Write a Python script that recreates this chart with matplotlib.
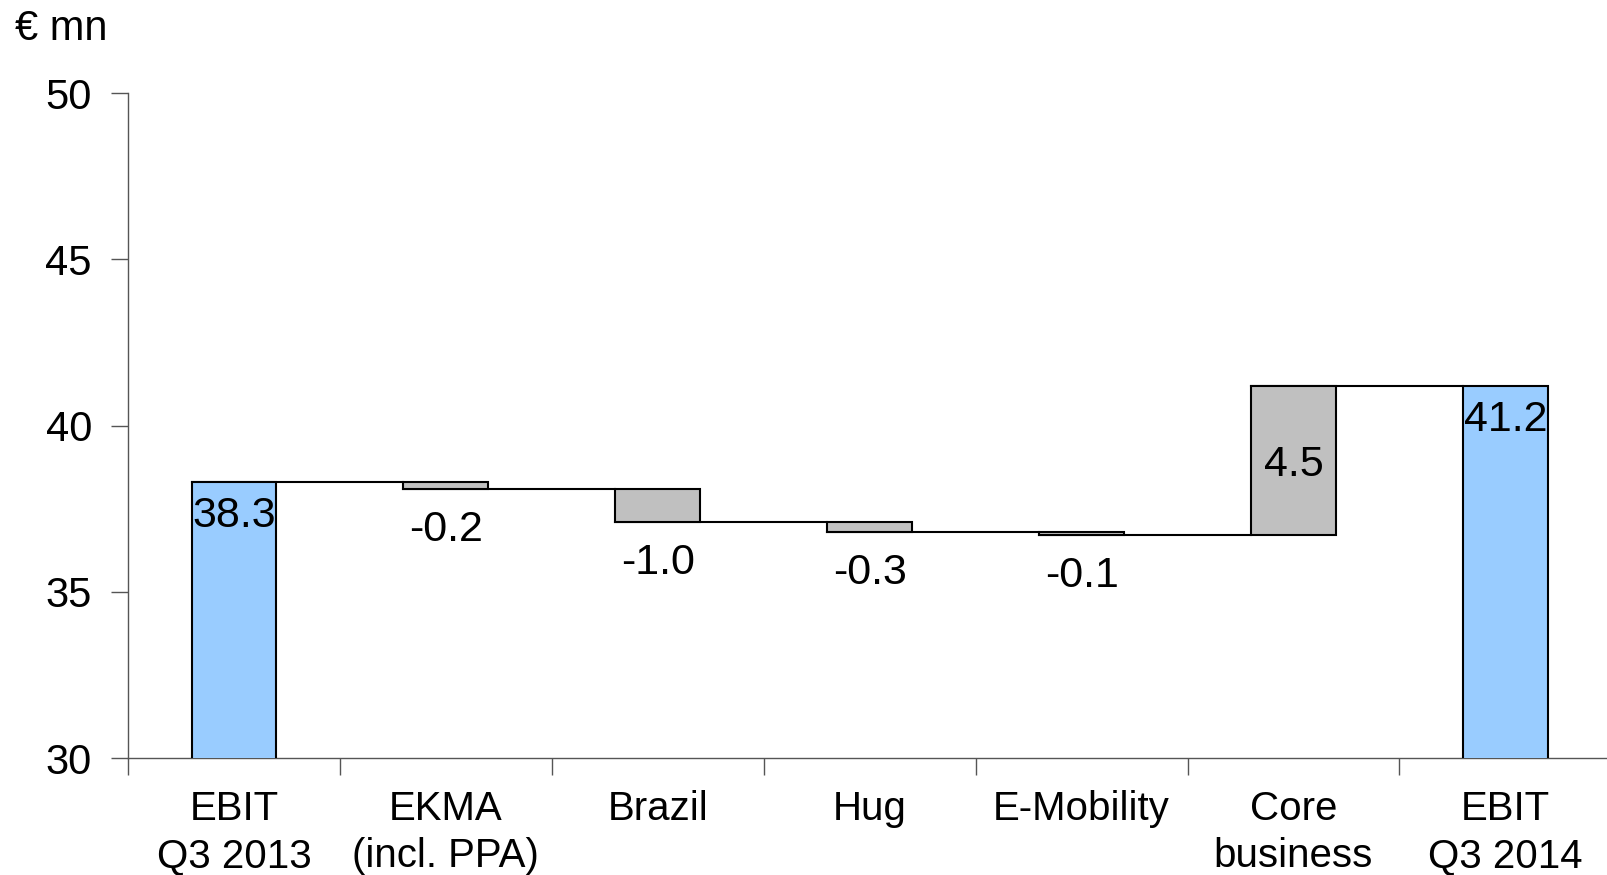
import numpy as np
import matplotlib
matplotlib.use('Agg')
import matplotlib.pyplot as plt

plt.rcParams['font.family'] = ['Liberation Sans', 'DejaVu Sans']

# Waterfall data (EBIT bridge, € mn)
categories = ['EBIT\nQ3 2013', 'EKMA\n(incl. PPA)', 'Brazil', 'Hug',
              'E-Mobility', 'Core\nbusiness', 'EBIT\nQ3 2014']
start_value = 38.3
deltas = [-0.2, -1.0, -0.3, -0.1, 4.5]
end_value = 41.2
y_ticks = [30, 35, 40, 45, 50]

blue = '#99CCFF'
grey = '#C0C0C0'

# running totals for the floating bars
levels = [start_value]
for d in deltas:
    levels.append(levels[-1] + d)

fig = plt.figure(figsize=(16.08, 8.75), dpi=100)
ax = fig.add_axes([0.0796, 0.1337, 0.9225, 0.76])

x = np.arange(len(categories))
w = 0.40

# totals
ax.bar(x[0], start_value, width=w, color=blue, edgecolor='black', linewidth=1.5, zorder=3)
ax.bar(x[-1], end_value, width=w, color=blue, edgecolor='black', linewidth=1.5, zorder=3)

# deltas
for i, d in enumerate(deltas):
    bottom = levels[i] if d >= 0 else levels[i + 1]
    ax.bar(x[i + 1], abs(d), bottom=bottom, width=w, color=grey,
           edgecolor='black', linewidth=1.5, zorder=3)

# connectors between consecutive bars
for i in range(len(levels)):
    ax.plot([x[i] - w / 2, x[i + 1] - w / 2], [levels[i], levels[i]],
            color='black', linewidth=1.5, zorder=2)

# value labels
fs = 31
ax.annotate(f'{start_value:.1f}', (x[0], start_value), xytext=(0, -10),
            textcoords='offset points', ha='center', va='top', fontsize=fs, zorder=4)
ax.annotate(f'{end_value:.1f}', (x[-1], end_value), xytext=(0, -10),
            textcoords='offset points', ha='center', va='top', fontsize=fs, zorder=4)
for i, d in enumerate(deltas):
    if d < 0:
        ax.annotate(f'{d:.1f}', (x[i + 1], levels[i + 1]), xytext=(0, -15),
                    textcoords='offset points', ha='center', va='top', fontsize=fs)
    else:
        ax.annotate(f'{d:.1f}', (x[i + 1], levels[i] + d / 2), xytext=(0, -3),
                    textcoords='offset points', ha='center', va='center',
                    fontsize=fs, zorder=4)

ax.set_ylim(30, 50)
ax.set_xlim(-0.5, len(categories) - 0.5)
ax.set_yticks(y_ticks)
ax.set_yticklabels([str(t) for t in y_ticks], fontsize=30)

# category ticks sit on the boundaries, labels in the middle
ax.set_xticks(np.arange(len(categories) + 1) - 0.5)
ax.set_xticklabels([])
ax.tick_params(axis='x', direction='out', length=12, width=1, color='#555555')
ax.tick_params(axis='y', direction='out', length=12, width=1, color='#555555', pad=14)
for i, c in enumerate(categories):
    ax.annotate(c, (x[i], 30), xytext=(0, -23), textcoords='offset points',
                ha='center', va='top', fontsize=29, linespacing=1.3,
                annotation_clip=False)

for s in ['top', 'right']:
    ax.spines[s].set_visible(False)
for s in ['left', 'bottom']:
    ax.spines[s].set_color('#555555')
    ax.spines[s].set_linewidth(1)

fig.text(15 / 1608, 1 - 40 / 875, '€ mn', fontsize=30, ha='left', va='baseline')

fig.savefig('out.png', dpi=100)
